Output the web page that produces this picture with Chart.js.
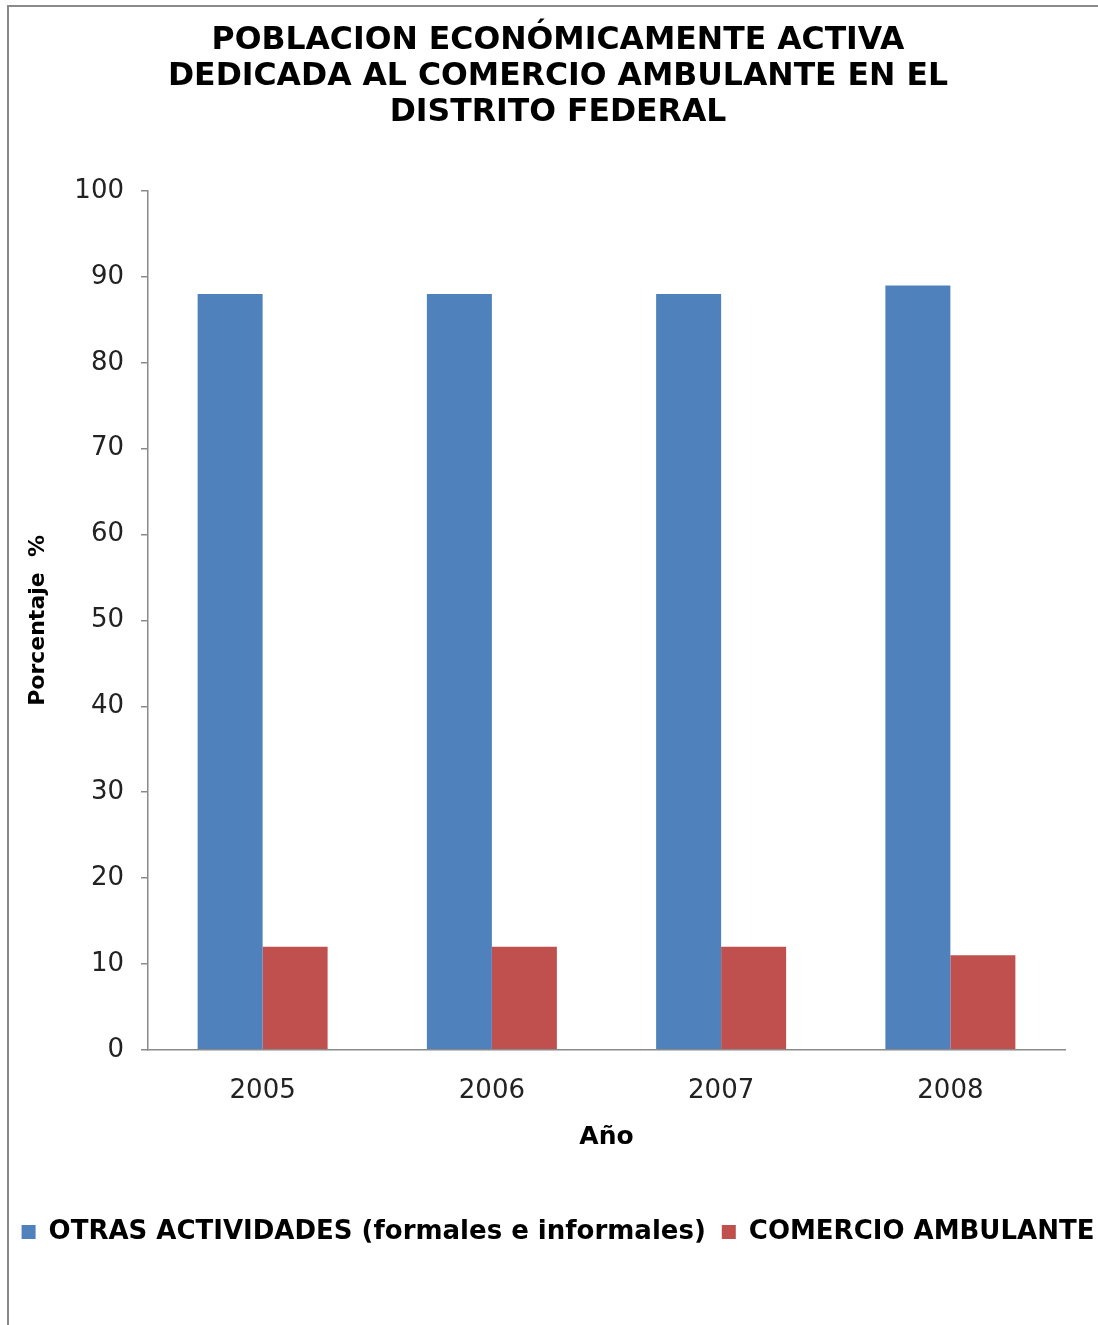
<!DOCTYPE html>
<html>
<head>
<meta charset="utf-8">
<script src="https://cdn.jsdelivr.net/npm/chart.js@4/dist/chart.umd.min.js"></script>
<style>
  html, body { margin: 0; padding: 0; background: #fff; overflow: hidden; }
  #frame { position: absolute; left: 7px; top: 5px; width: 1200px; height: 1400px;
           border-left: 2px solid #8a8a8a; border-top: 2px solid #8a8a8a; }
  #wrap { position: absolute; left: 0; top: 0; width: 1116px; height: 1325px; }
</style>
</head>
<body>
<div id="frame"></div>
<div id="wrap"><canvas id="chart"></canvas></div>
<script>
// data
const years = ['2005', '2006', '2007', '2008'];
const otrasActividades = [88, 88, 88, 89];
const comercioAmbulante = [12, 12, 12, 11];
const seriesNames = ['OTRAS ACTIVIDADES (formales e informales)', 'COMERCIO AMBULANTE'];
const titleLines = ['POBLACION ECONÓMICAMENTE ACTIVA', 'DEDICADA AL COMERCIO AMBULANTE EN EL', 'DISTRITO FEDERAL'];

const axisGray = '#8a8a8a';
const fontFamily = '"DejaVu Sans", sans-serif';

document.addEventListener('DOMContentLoaded', function () {
    const ctx = document.getElementById('chart').getContext('2d');
    new Chart(ctx, {
        type: 'bar',
        data: {
            labels: years,
            datasets: [{
                label: seriesNames[0],
                data: otrasActividades,
                backgroundColor: '#4F81BD',
                borderWidth: 0
            }, {
                label: seriesNames[1],
                data: comercioAmbulante,
                backgroundColor: '#C0504D',
                borderWidth: 0
            }]
        },
        options: {
            responsive: true,
            maintainAspectRatio: false,
            animation: false,
            layout: { padding: { left: 0, right: 0, top: 0, bottom: 70 } },
            datasets: {
                bar: { categoryPercentage: 0.567, barPercentage: 1 }
            },
            plugins: {
                tooltip: { enabled: false },
                title: {
                    display: true,
                    text: titleLines,
                    color: '#000',
                    font: { family: fontFamily, size: 31.5, weight: 'bold', lineHeight: 36 / 31.5 },
                    padding: { top: 23, bottom: 60 }
                },
                legend: {
                    position: 'bottom',
                    labels: {
                        color: '#000',
                        font: { family: fontFamily, size: 26, weight: 'bold' },
                        boxWidth: 14,
                        boxHeight: 14,
                        padding: 16
                    }
                }
            },
            scales: {
                x: {
                    grid: { display: false, drawTicks: false },
                    border: { display: true, color: axisGray, width: 1.5 },
                    ticks: {
                        color: '#222',
                        padding: 26,
                        font: { family: fontFamily, size: 26 }
                    },
                    title: {
                        display: true,
                        text: 'Año',
                        color: '#000',
                        font: { family: fontFamily, size: 25, weight: 'bold', lineHeight: 1.2 },
                        padding: { top: -11, bottom: 51 }
                    }
                },
                y: {
                    min: 0,
                    max: 100,
                    afterFit: function (scale) { scale.width = 148; },
                    grid: {
                        display: true,
                        drawOnChartArea: false,
                        drawTicks: true,
                        tickLength: 7,
                        color: axisGray,
                        lineWidth: 1.5
                    },
                    border: { display: true, color: axisGray, width: 1.5 },
                    ticks: {
                        stepSize: 10,
                        color: '#222',
                        padding: 17,
                        font: { family: fontFamily, size: 26 }
                    },
                    title: {
                        display: true,
                        text: 'Porcentaje  %',
                        color: '#000',
                        font: { family: fontFamily, size: 22, weight: 'bold', lineHeight: 1.2 },
                        padding: { top: 25, bottom: 0 }
                    }
                },
                // empty right-hand gutter so the title and legend stay centred on the whole frame
                gutter: {
                    type: 'linear',
                    position: 'right',
                    display: true,
                    afterFit: function (scale) { scale.width = 51; },
                    grid: { display: false, drawTicks: false },
                    border: { display: false },
                    ticks: { display: false }
                }
            }
        }
    });
});
</script>
</body>
</html>
